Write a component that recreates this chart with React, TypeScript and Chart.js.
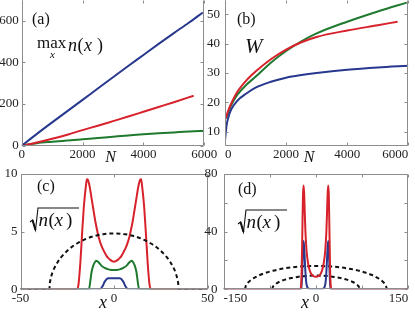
import React, { useEffect, useRef } from "react";
import { Chart, registerables } from "chart.js";
Chart.register(...registerables);

// ---------- Panel (a): max_x n(x) versus N ----------
const aBlueN = [0, 500, 1000, 1500, 2000, 2500, 3000, 3500, 4000, 4500, 5000, 5500, 5950];
const aBlue = [0, 57, 112, 166, 220, 275, 329, 383, 436, 489, 541, 592, 640];
const aRedN = [0, 500, 1000, 1500, 2000, 2500, 3000, 3500, 4000, 4500, 5000, 5650];
const aRed = [0, 15, 33, 53, 75, 96, 118, 140, 163, 186, 209, 240];
const aGreenN = [0, 500, 1000, 1500, 2000, 2500, 3000, 3500, 4000, 4500, 5000, 5500, 6000];
const aGreen = [0, 12, 19, 25, 31, 37, 43, 49, 55, 60, 64, 68, 71];
const aTicksX = [0, 2000, 4000, 6000];
const aTicksY = [0, 200, 400, 600];

// ---------- Panel (b): W versus N ----------
const bBlueN = [0, 50, 100, 200, 400, 700, 1000, 1500, 2000, 2500, 3000, 4000, 5000, 6000];
const bBlue = [7, 12, 14.5, 17.5, 20.5, 23, 25, 27, 28.4, 29.3, 30, 31.1, 31.9, 32.5];
const bRedN = [20, 50, 100, 200, 400, 700, 1000, 1500, 2000, 2500, 3000, 4000, 5000, 5650];
const bRed = [14.5, 15.5, 17, 19.5, 23.5, 27.5, 30.5, 34.7, 38, 40.5, 42.3, 44.5, 46.3, 47.5];
const bGreenN = [20, 50, 100, 200, 400, 700, 1000, 1500, 2000, 2500, 3000, 4000, 5000, 5950];
const bGreen = [14.5, 15, 16.5, 19, 22.5, 26, 28.7, 33.5, 37.5, 40.8, 43.5, 47.5, 51, 54];
const bTicksX = [0, 2000, 4000, 6000];
const bTicksY = [10, 20, 30, 40, 50];

// ---------- Panel (c): sqrt(n(x)) versus x ----------
const cRedX = [-50, -20, -19.5, -19, -18, -17, -16, -15, -14.5, -14, -13, -12, -11, -10, -9, -8, -7, -6, -5, -4, -3, -2, -1, 0,
  1, 2, 3, 4, 5, 6, 7, 8, 9, 10, 11, 12, 13, 14, 14.5, 15, 16, 17, 18, 19, 19.5, 20, 50];
const cRed = [0, 0, 0.05, 0.4, 2.3, 5.0, 7.4, 9.0, 9.55, 9.5, 8.9, 7.9, 6.9, 5.9, 5.1, 4.4, 3.9, 3.5, 3.2, 2.9, 2.7, 2.55, 2.45, 2.4,
  2.45, 2.55, 2.7, 2.9, 3.2, 3.5, 3.9, 4.4, 5.1, 5.9, 6.9, 7.9, 8.9, 9.5, 9.55, 9.0, 7.4, 5.0, 2.3, 0.4, 0.05, 0, 0];
const cGreenX = [-50, -13.5, -13, -12.5, -12, -11, -10, -9.5, -9, -8, -7, -6, -5, -4, -3, -2, -1, 0,
  1, 2, 3, 4, 5, 6, 7, 8, 9, 9.5, 10, 11, 12, 12.5, 13, 13.5, 50];
const cGreen = [0, 0, 0.3, 0.9, 1.5, 2.1, 2.4, 2.48, 2.45, 2.3, 2.1, 1.95, 1.85, 1.78, 1.73, 1.7, 1.68, 1.67,
  1.68, 1.7, 1.73, 1.78, 1.85, 1.95, 2.1, 2.3, 2.45, 2.48, 2.4, 2.1, 1.5, 0.9, 0.3, 0, 0];
const cBlueX = [-50, -7.5, -7, -6, -5, -4, -3, -2, 0, 2, 3, 4, 5, 6, 7, 7.5, 50];
const cBlue = [0, 0, 0.05, 0.3, 0.65, 0.88, 0.95, 0.96, 0.96, 0.96, 0.95, 0.88, 0.65, 0.3, 0.05, 0, 0];
const cDashX = [-50, -34.5, -34.4, -34, -33, -32, -30, -28, -25, -22, -20, -15, -10, -5, 0,
  5, 10, 15, 20, 22, 25, 28, 30, 32, 33, 34, 34.4, 34.5, 50];
const cDash = [0, 0, 0.37, 0.82, 1.41, 1.81, 2.39, 2.83, 3.34, 3.74, 3.95, 4.37, 4.64, 4.8, 4.85,
  4.8, 4.64, 4.37, 3.95, 3.74, 3.34, 2.83, 2.39, 1.81, 1.41, 0.82, 0.37, 0, 0];
const cTicksX = [-50, 0, 50];
const cTicksY = [0, 5, 10];

// ---------- Panel (d): sqrt(n(x)) versus x ----------
const dRedX = [-150, -25, -24, -23, -22, -21, -20, -19, -18, -17, -16, -15, -14, -12, -10, -8, -6, -4, -2, 0,
  2, 4, 6, 8, 10, 12, 14, 15, 16, 17, 18, 19, 20, 21, 22, 23, 24, 25, 150];
const dRed = [0, 0, 3, 15, 40, 65, 72, 66, 52, 40, 32, 26, 22, 16.5, 13, 11, 9.8, 9.1, 8.8, 8.7,
  8.8, 9.1, 9.8, 11, 13, 16.5, 22, 26, 32, 40, 52, 66, 72, 65, 40, 15, 3, 0, 0];
const dBlueX = [-150, -24, -23, -22, -21, -20, -19, -18, -17, -16, -15, -14, -12, -10, 0,
  10, 12, 14, 15, 16, 17, 18, 19, 20, 21, 22, 23, 24, 150];
const dBlue = [0, 0, 4, 15, 28, 33.5, 29, 20, 12, 6, 3, 1.5, 0.5, 0.2, 0.1,
  0.2, 0.5, 1.5, 3, 6, 12, 20, 29, 33.5, 28, 15, 4, 0, 0];
const dOuterX = [-115, -114, -112, -110, -105, -100, -90, -80, -70, -60, -50, -40, -30, -20, -10, 0,
  10, 20, 30, 40, 50, 60, 70, 80, 90, 100, 105, 110, 112, 114, 115];
const dOuter = [0, 2.13, 3.68, 4.72, 6.61, 8.0, 10.08, 11.64, 12.85, 13.82, 14.59, 15.19, 15.64, 15.95, 16.14, 16.2,
  16.14, 15.95, 15.64, 15.19, 14.59, 13.82, 12.85, 11.64, 10.08, 8.0, 6.61, 4.72, 3.68, 2.13, 0];
const dInnerX = [-71, -70, -68, -65, -60, -50, -40, -30, -20, -10, 0, 10, 20, 30, 40, 50, 60, 65, 68, 70, 71];
const dInner = [0, 1.59, 2.73, 3.82, 5.08, 6.74, 7.85, 8.61, 9.12, 9.41, 9.5, 9.41, 9.12, 8.61, 7.85, 6.74, 5.08, 3.82, 2.73, 1.59, 0];
const dTicksX = [-150, -75, 0, 75, 150];
const dLabelsX = [-150, 0, 150];
const dTicksY = [0, 20, 40, 60, 80];
const dLabelsY = [0, 40, 80];

// ---------- styling ----------
const BLUE = "#27388e";
const RED = "#d8222b";
const GREEN = "#1f7a30";
const BLACK = "#111111";
const FRAME = "#8c8c8c";
const SERIF = '"Liberation Serif", "Times New Roman", serif';
const W = 415;
const H = 315;

const pts = (xs: number[], ys: number[]) => xs.map((x, i) => ({ x, y: ys[i] }));

function put(ctx: CanvasRenderingContext2D, s: string, x: number, y: number, size: number, italic = false, align: CanvasTextAlign = "left") {
  ctx.font = `${italic ? "italic " : ""}${size}px ${SERIF}`;
  ctx.textAlign = align;
  ctx.textBaseline = "alphabetic";
  ctx.fillStyle = BLACK;
  ctx.fillText(s, x, y);
}

function radical(ctx: CanvasRenderingContext2D, x0: number, yTop: number, yBot: number, xEnd: number) {
  ctx.save();
  ctx.strokeStyle = BLACK;
  ctx.lineWidth = 1.1;
  ctx.beginPath();
  ctx.moveTo(x0, yBot - 8);
  ctx.lineTo(x0 + 2.5, yBot - 10);
  ctx.lineTo(x0 + 5.5, yBot);
  ctx.lineTo(x0 + 8, yTop);
  ctx.lineTo(xEnd, yTop);
  ctx.stroke();
  ctx.lineWidth = 2;
  ctx.beginPath();
  ctx.moveTo(x0 + 2.5, yBot - 10);
  ctx.lineTo(x0 + 5.5, yBot);
  ctx.stroke();
  ctx.restore();
}

function sqrtN(ctx: CanvasRenderingContext2D, x0: number, y0: number) {
  radical(ctx, x0, y0 - 18, y0 + 4, x0 + 49);
  put(ctx, "n", x0 + 8.5, y0, 19, true);
  put(ctx, "(", x0 + 18.5, y0, 19);
  put(ctx, "x", x0 + 24.5, y0, 19, true);
  put(ctx, ")", x0 + 36, y0, 19);
}

type Spec = {
  area: { l: number; r: number; t: number; b: number };
  xr: [number, number];
  yr: [number, number];
  xTicks: number[];
  xLabels: number[];
  xAlign: "center" | "inner";
  yTicks: number[];
  yLabels: number[];
  yPad: number;
  frameTop: boolean;
  datasets: any[];
  texts: (ctx: CanvasRenderingContext2D) => void;
};

const line = (data: any[], color: string, dashed = false) => ({
  data,
  borderColor: color,
  borderWidth: 2,
  borderDash: dashed ? [4, 3] : [],
  pointRadius: 0,
  fill: false,
  cubicInterpolationMode: "monotone",
});

function makeConfig(spec: Spec): any {
  const yW = Math.min(spec.area.l, 22);
  const xH = 16;
  const tickFont = { family: SERIF, size: 13 };
  const framePlugin = {
    id: "frame",
    afterDraw(chart: any) {
      const { ctx, chartArea } = chart;
      const { left, right, top, bottom } = chartArea;
      const xs = chart.scales.x;
      const ys = chart.scales.y;
      const L = Math.round(left) + 0.5;
      const R = Math.round(right) - 0.5;
      const T = Math.round(top) + 0.5;
      const B = Math.round(bottom) - 0.5;
      ctx.save();
      ctx.strokeStyle = FRAME;
      ctx.lineWidth = 1;
      ctx.beginPath();
      ctx.moveTo(L, T);
      ctx.lineTo(L, B);
      ctx.lineTo(R, B);
      ctx.lineTo(R, T);
      if (spec.frameTop) ctx.lineTo(L, T);
      for (const v of spec.xTicks) {
        const p = Math.round(xs.getPixelForValue(v)) + 0.5;
        ctx.moveTo(p, B);
        ctx.lineTo(p, B - 3);
        ctx.moveTo(p, T);
        ctx.lineTo(p, T + 3);
      }
      for (const v of spec.yTicks) {
        const p = Math.round(ys.getPixelForValue(v)) + 0.5;
        ctx.moveTo(L, p);
        ctx.lineTo(L + 3, p);
        ctx.moveTo(R, p);
        ctx.lineTo(R - 3, p);
      }
      ctx.stroke();
      ctx.restore();
      ctx.save();
      spec.texts(ctx);
      ctx.restore();
    },
  };
  return {
    type: "line",
    data: { datasets: spec.datasets },
    options: {
      responsive: false,
      animation: false,
      devicePixelRatio: 1,
      events: [],
      layout: {
        padding: {
          left: spec.area.l - yW,
          right: W - spec.area.r,
          top: spec.area.t,
          bottom: H - spec.area.b - xH,
        },
      },
      plugins: { legend: { display: false }, tooltip: { enabled: false }, title: { display: false } },
      scales: {
        x: {
          type: "linear",
          min: spec.xr[0],
          max: spec.xr[1],
          grid: { display: false, drawTicks: false },
          border: { display: false },
          afterBuildTicks: (s: any) => {
            s.ticks = spec.xTicks.map((v) => ({ value: v }));
          },
          afterFit: (s: any) => {
            s.height = xH;
            s.paddingLeft = 0;
            s.paddingRight = 0;
          },
          ticks: {
            autoSkip: false,
            maxRotation: 0,
            minRotation: 0,
            align: spec.xAlign,
            padding: 1,
            color: "#222",
            font: tickFont,
            callback: (v: number) => (spec.xLabels.includes(v) ? String(v) : ""),
          },
        },
        y: {
          type: "linear",
          min: spec.yr[0],
          max: spec.yr[1],
          grid: { display: false, drawTicks: false },
          border: { display: false },
          afterBuildTicks: (s: any) => {
            s.ticks = spec.yTicks.map((v) => ({ value: v }));
          },
          afterFit: (s: any) => {
            s.width = yW;
            s.paddingTop = 0;
            s.paddingBottom = 0;
          },
          ticks: {
            autoSkip: false,
            padding: spec.yPad,
            color: "#222",
            font: tickFont,
            callback: (v: number) => (spec.yLabels.includes(v) ? String(v) : ""),
          },
        },
      },
    },
    plugins: [framePlugin],
  };
}

const specs: Spec[] = [
  {
    area: { l: 21.7, r: 204.3, t: 0, b: 145.7 },
    xr: [0, 6000],
    yr: [0, 700],
    xTicks: aTicksX,
    xLabels: aTicksX,
    xAlign: "center",
    yTicks: aTicksY,
    yLabels: aTicksY,
    yPad: 3,
    frameTop: false,
    datasets: [
      line(pts(aBlueN, aBlue), BLUE),
      line(pts(aRedN, aRed), RED),
      line(pts(aGreenN, aGreen), GREEN),
    ],
    texts: (ctx) => {
      put(ctx, "(a)", 32, 24, 16);
      put(ctx, "max", 37, 48, 17);
      put(ctx, "x", 50, 58, 11, true);
      put(ctx, "n", 68, 51, 18, true);
      put(ctx, "(", 77.5, 51, 18);
      put(ctx, "x", 84, 51, 18, true);
      put(ctx, ")", 97, 51, 18);
      put(ctx, "N", 110.5, 162, 16, true, "center");
    },
  },
  {
    area: { l: 225, r: 408.3, t: 0, b: 145.7 },
    xr: [0, 6000],
    yr: [5.2, 54.9],
    xTicks: bTicksX,
    xLabels: bTicksX,
    xAlign: "inner",
    yTicks: bTicksY,
    yLabels: bTicksY,
    yPad: 5,
    frameTop: false,
    datasets: [
      line(pts(bBlueN, bBlue), BLUE),
      line(pts(bRedN, bRed), RED),
      line(pts(bGreenN, bGreen), GREEN),
    ],
    texts: (ctx) => {
      put(ctx, "(b)", 237, 24, 16);
      put(ctx, "W", 245, 53, 21, true);
      put(ctx, "N", 309, 162, 16, true, "center");
    },
  },
  {
    area: { l: 20.5, r: 207.5, t: 174, b: 289.3 },
    xr: [-50, 50],
    yr: [0, 10],
    xTicks: cTicksX,
    xLabels: cTicksX,
    xAlign: "center",
    yTicks: cTicksY,
    yLabels: cTicksY,
    yPad: 3,
    frameTop: true,
    datasets: [
      line(pts(cDashX, cDash), BLACK, true),
      line(pts(cRedX, cRed), RED),
      line(pts(cGreenX, cGreen), GREEN),
      line(pts(cBlueX, cBlue), BLUE),
    ],
    texts: (ctx) => {
      put(ctx, "(c)", 37, 191, 16);
      sqrtN(ctx, 30, 226);
      put(ctx, "x", 103, 308, 18, true, "center");
    },
  },
  {
    area: { l: 223.5, r: 408.3, t: 174, b: 289.3 },
    xr: [-150, 150],
    yr: [0, 80],
    xTicks: dTicksX,
    xLabels: dLabelsX,
    xAlign: "inner",
    yTicks: dTicksY,
    yLabels: dLabelsY,
    yPad: 6,
    frameTop: true,
    datasets: [
      line(pts(dRedX, dRed), RED),
      line(pts(dBlueX, dBlue), BLUE),
      line(pts(dOuterX, dOuter), BLACK, true),
      line(pts(dInnerX, dInner), BLACK, true),
    ],
    texts: (ctx) => {
      put(ctx, "(d)", 238, 194, 16);
      sqrtN(ctx, 238, 228);
      put(ctx, "x", 305, 308, 18, true, "center");
    },
  },
];

export default function App() {
  const r0 = useRef<HTMLCanvasElement>(null);
  const r1 = useRef<HTMLCanvasElement>(null);
  const r2 = useRef<HTMLCanvasElement>(null);
  const r3 = useRef<HTMLCanvasElement>(null);
  const refs = [r0, r1, r2, r3];

  useEffect(() => {
    const charts = refs.map((r, i) => new Chart(r.current as HTMLCanvasElement, makeConfig(specs[i])));
    return () => charts.forEach((c) => c.destroy());
  }, []);

  return (
    <div style={{ position: "absolute", left: 0, top: 0, width: W, height: H, background: "#fff", overflow: "hidden" }}>
      {refs.map((r, i) => (
        <canvas
          key={i}
          ref={r}
          width={W}
          height={H}
          style={{ position: "absolute", left: 0, top: 0, width: W, height: H }}
        />
      ))}
    </div>
  );
}
